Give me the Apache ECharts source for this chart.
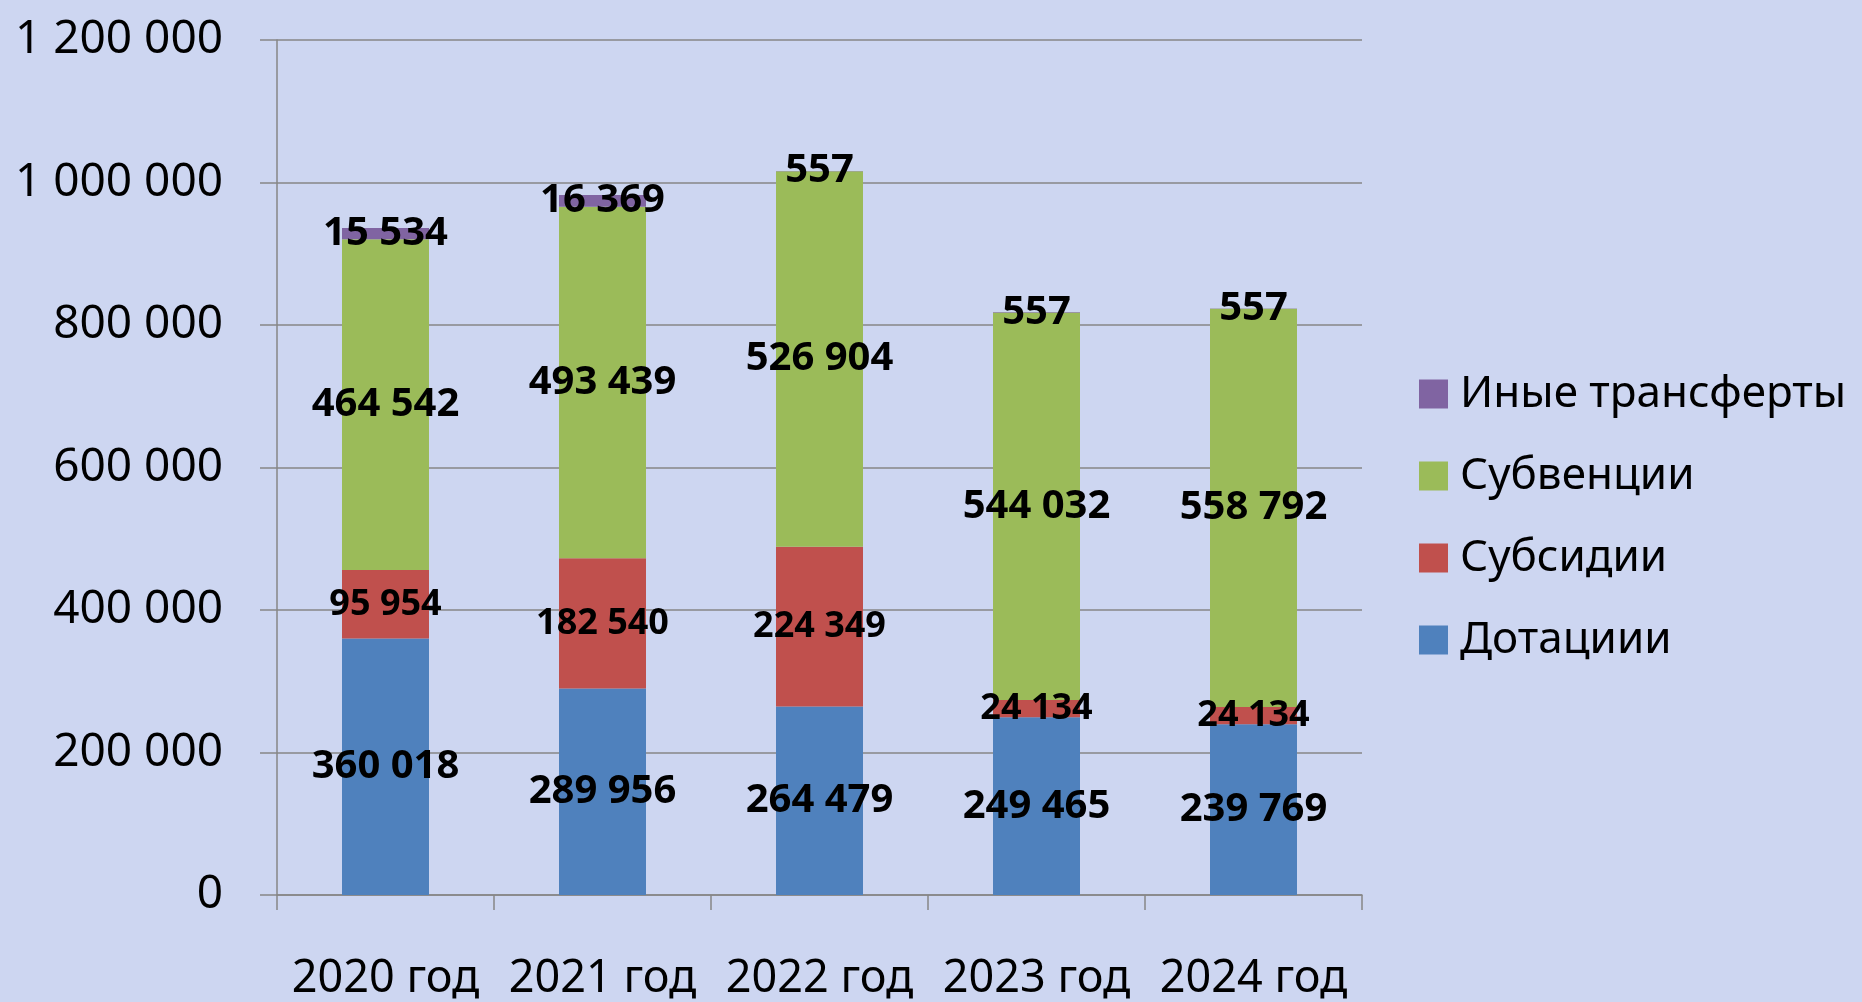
<!DOCTYPE html>
<html>
<head>
<meta charset="utf-8">
<script src="https://cdn.jsdelivr.net/npm/echarts@6/dist/echarts.min.js"></script>
<style>
html,body{margin:0;padding:0;background:#cdd6f1;}
#c{width:1862px;height:1002px;}
</style>
</head>
<body>
<div id="c"></div>
<script>
const categories = ['2020 год', '2021 год', '2022 год', '2023 год', '2024 год'];
const dotacii = [360018, 289956, 264479, 249465, 239769];
const subsidii = [95954, 182540, 224349, 24134, 24134];
const subvencii = [464542, 493439, 526904, 544032, 558792];
const inye = [15534, 16369, 557, 557, 557];
const seriesNames = ['Дотациии', 'Субсидии', 'Субвенции', 'Иные трансферты'];
const legendOrder = ['Иные трансферты', 'Субвенции', 'Субсидии', 'Дотациии'];
const yTicks = [0, 200000, 400000, 600000, 800000, 1000000, 1200000];

function fmt(v) { return String(v).replace(/\B(?=(\d{3})+(?!\d))/g, ' '); }

const chart = echarts.init(document.getElementById('c'));
const FONT = '"Noto Sans", sans-serif';
function mk(name, data, color, fs) {
  return {
    name: name, type: 'bar', stack: 'total', data: data, barWidth: 87,
    itemStyle: { color: color },
    label: {
      show: true, position: 'inside', formatter: p => fmt(p.value),
      color: '#000', fontWeight: 'bold', fontSize: fs, fontFamily: FONT
    }
  };
}
chart.setOption({
  backgroundColor: '#cdd6f1',
  animation: false,
  grid: { left: 277, right: 500, top: 40, bottom: 107 },
  legend: {
    data: legendOrder, orient: 'vertical', left: 1414, top: 367,
    itemWidth: 29, itemHeight: 29, itemGap: 38, icon: 'rect',
    textStyle: { fontSize: 44, color: '#000', fontFamily: FONT, padding: [0, 0, 0, 7] }
  },
  xAxis: {
    type: 'category', data: categories,
    axisLine: { lineStyle: { color: '#868686', width: 1.5 } },
    axisTick: { show: true, interval: 0, length: 15, lineStyle: { color: '#868686', width: 1.5 } },
    axisLabel: { interval: 0, fontSize: 45, color: '#000', fontFamily: FONT, margin: 62 }
  },
  yAxis: {
    type: 'value', min: yTicks[0], max: yTicks[yTicks.length - 1], interval: 200000,
    axisLine: { show: true, lineStyle: { color: '#868686', width: 1.5 } },
    axisTick: { show: true, length: 17, lineStyle: { color: '#868686', width: 1.5 } },
    splitLine: { lineStyle: { color: '#868686', width: 1.5 } },
    axisLabel: { fontSize: 46, color: '#000', fontFamily: FONT, margin: 54, formatter: v => fmt(v) }
  },
  series: [
    mk(seriesNames[0], dotacii, '#4f81bd', 40),
    mk(seriesNames[1], subsidii, '#c0504d', 36),
    mk(seriesNames[2], subvencii, '#9bbb59', 40),
    mk(seriesNames[3], inye, '#8064a2', 40)
  ]
});
</script>
</body>
</html>
